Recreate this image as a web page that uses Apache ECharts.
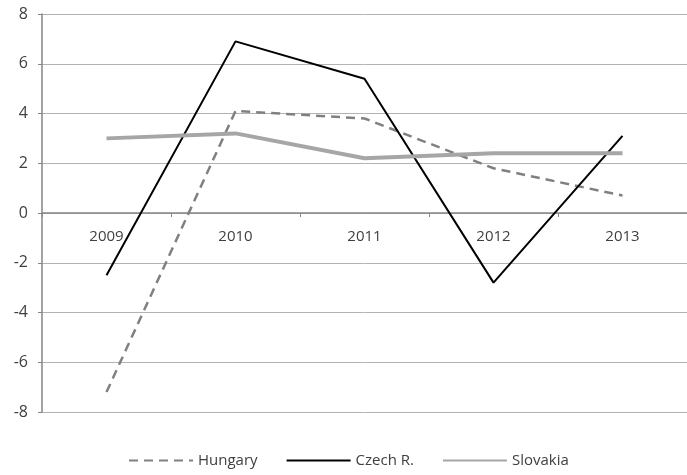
<!DOCTYPE html>
<html><head><meta charset="utf-8">
<script src="https://cdn.jsdelivr.net/npm/echarts@6/dist/echarts.min.js"></script>
<style>html,body{margin:0;padding:0;background:#fff}#c{width:687px;height:475px}</style>
</head><body><div id="c"></div>
<script>
var categories = ['2009', '2010', '2011', '2012', '2013'];
var hungary = [-7.2, 4.1, 3.8, 1.8, 0.7];
var czech = [-2.5, 6.9, 5.4, -2.8, 3.1];
var slovakia = [3.0, 3.2, 2.2, 2.4, 2.4];
var yTicks = { min: -8, max: 8, interval: 2 };

var chart = echarts.init(document.getElementById('c'), null, { renderer: 'canvas' });
var font = 'Open Sans';
var gridTop = 14, gridBottom = 63, H = 475;
var plotH = H - gridTop - gridBottom;
chart.setOption({
  animation: false,
  grid: { left: 42, right: -5, top: gridTop, bottom: gridBottom, containLabel: false },
  legend: {
    bottom: 2, left: 123, itemWidth: 64, itemHeight: 10, itemGap: 28,
    itemStyle: { opacity: 0 },
    textStyle: { fontFamily: font, fontSize: 15, color: '#404040' },
    data: ['Hungary', 'Czech R.', 'Slovakia']
  },
  xAxis: {
    type: 'category', data: categories, boundaryGap: true, position: 'bottom',
    offset: -plotH / 2,
    axisLine: { onZero: false, lineStyle: { color: '#868686', width: 1.5 } },
    axisTick: { show: true, length: 4, lineStyle: { color: '#868686' } },
    axisLabel: { fontFamily: font, fontSize: 15, color: '#404040', margin: 16 },
    splitLine: { show: false }
  },
  yAxis: {
    type: 'value', min: yTicks.min, max: yTicks.max, interval: yTicks.interval,
    axisLine: { show: true, lineStyle: { color: '#868686', width: 1.5 } },
    axisTick: { show: true, length: 4, inside: false, lineStyle: { color: '#868686' } },
    axisLabel: { fontFamily: font, fontSize: 16, color: '#404040', margin: 14 },
    splitLine: { show: true, lineStyle: { color: '#b3b3b3', width: 1 } }
  },
  series: [
    { name: 'Hungary', type: 'line', data: hungary, symbol: 'none',
      lineStyle: { color: '#808080', width: 2.5, type: [9, 6] }, itemStyle: { color: '#808080' } },
    { name: 'Czech R.', type: 'line', data: czech, symbol: 'none',
      lineStyle: { color: '#000000', width: 2 }, itemStyle: { color: '#000000' } },
    { name: 'Slovakia', type: 'line', data: slovakia, symbol: 'none',
      lineStyle: { color: '#a6a6a6', width: 4 }, itemStyle: { color: '#a6a6a6' } }
  ]
});
</script></body></html>
